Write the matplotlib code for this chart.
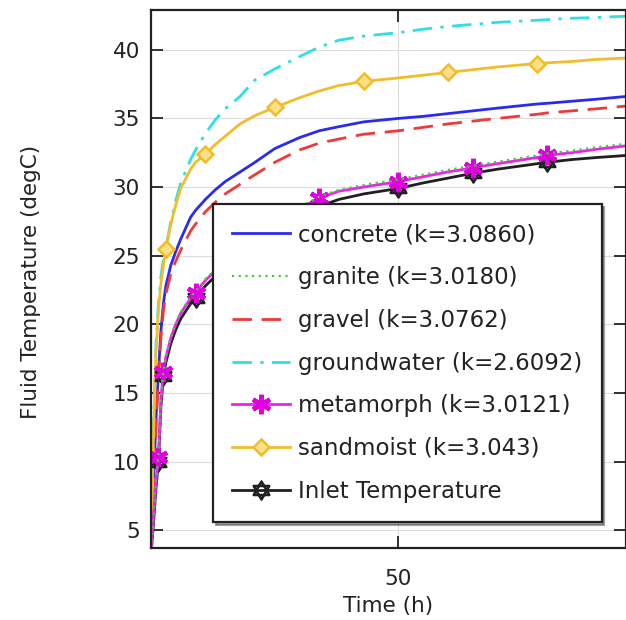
import numpy as np
import matplotlib
matplotlib.use("Agg")
import matplotlib.pyplot as plt
from matplotlib.lines import Line2D
from matplotlib.path import Path

# time axis (hours)
time_h = [0, 0.5, 1, 1.5, 2, 2.5, 3, 4, 5, 6, 8, 9, 11, 13, 15, 18,
          21, 25, 30, 34, 38, 43, 50, 55, 60, 65, 70, 78, 80, 85, 90, 96]

concrete = [3.2, 8.5, 13.0, 16.5, 19.5, 21.5, 22.8, 24.3, 25.3, 26.2, 27.8, 28.3,
            29.1, 29.8, 30.4, 31.1, 31.8, 32.8, 33.6, 34.1, 34.4, 34.75, 35.0, 35.15,
            35.35, 35.55, 35.75, 36.05, 36.1, 36.25, 36.4, 36.6]
granite = [3.2, 6.1, 8.6, 10.4, 14.6, 16.6, 17.7, 19.1, 20.1, 20.9, 22.0, 22.4,
           23.3, 24.0, 24.7, 25.6, 26.4, 27.4, 28.5, 29.3, 29.8, 30.15, 30.55, 30.9,
           31.25, 31.55, 31.85, 32.3, 32.45, 32.65, 32.9, 33.15]
gravel = [3.2, 8.0, 12.5, 16.0, 19.0, 21.0, 22.2, 23.7, 24.6, 25.4, 26.8, 27.3,
          28.2, 28.9, 29.5, 30.2, 30.9, 31.8, 32.7, 33.2, 33.5, 33.85, 34.1, 34.35,
          34.6, 34.8, 35.0, 35.3, 35.4, 35.55, 35.7, 35.9]
groundwater = [3.2, 12.5, 18.5, 21.5, 23.5, 24.7, 25.5, 27.5, 29.0, 30.3, 32.0, 32.7,
               33.9, 34.9, 35.7, 36.6, 37.8, 38.6, 39.5, 40.2, 40.7, 41.0, 41.25, 41.5,
               41.7, 41.85, 42.0, 42.15, 42.2, 42.3, 42.35, 42.45]
metamorph = [3.2, 6.0, 8.5, 10.3, 14.5, 16.5, 17.6, 19.0, 20.0, 20.8, 21.9, 22.3,
             23.2, 23.9, 24.6, 25.5, 26.3, 27.3, 28.4, 29.2, 29.7, 30.0, 30.4, 30.75,
             31.1, 31.4, 31.7, 32.15, 32.3, 32.5, 32.75, 33.0]
sandmoist = [3.2, 12.0, 18.0, 21.0, 23.0, 24.3, 25.5, 27.3, 28.7, 29.9, 31.3, 31.8,
             32.4, 33.1, 33.7, 34.6, 35.2, 35.8, 36.5, 37.0, 37.4, 37.7, 37.95, 38.15,
             38.35, 38.55, 38.75, 39.0, 39.05, 39.15, 39.3, 39.4]
inlet = [3.2, 5.5, 8.0, 10.0, 14.0, 16.2, 17.2, 18.6, 19.6, 20.4, 21.5, 21.9,
         22.8, 23.5, 24.1, 25.0, 25.8, 26.8, 27.9, 28.6, 29.1, 29.5, 29.9, 30.3,
         30.65, 31.0, 31.3, 31.7, 31.8, 32.0, 32.15, 32.3]

labels = ["concrete (k=3.0860)", "granite (k=3.0180)", "gravel (k=3.0762)",
          "groundwater (k=2.6092)", "metamorph (k=3.0121)", "sandmoist (k=3.043)",
          "Inlet Temperature"]

# marker positions (indices into time_h)
metamorph_marks = [3, 5, 11, 19, 22, 25, 28]
sandmoist_marks = [6, 12, 17, 21, 24, 27]

# six-pointed star outline made of two triangles
up = [(0, 1), (-0.866, -0.5), (0.866, -0.5), (0, 1)]
down = [(0, -1), (-0.866, 0.5), (0.866, 0.5), (0, -1)]
codes = [Path.MOVETO, Path.LINETO, Path.LINETO, Path.CLOSEPOLY]
hexagram = Path(up + down, codes + codes)

plt.rcParams["font.family"] = "DejaVu Sans"
fig = plt.figure(figsize=(6.26, 6.2), dpi=100)
ax = fig.add_axes([151 / 626, 1 - 548 / 620, 1 - 151 / 626, (548 - 10) / 620])

t = np.array(time_h)
lw = 2.0
ax.plot(t, concrete, color="#2b2bef", lw=lw)
ax.plot(t, gravel, color="#f03a3a", lw=lw, dashes=(7, 3.5))
ax.plot(t, groundwater, color="#2ee0e0", lw=lw, dashes=(7, 3, 1.2, 3))
ax.plot(t, sandmoist, color="#f2bd2a", lw=lw)
ax.plot(t, sandmoist, ls="none", marker="D", ms=8, mfc="#fbe08a", mec="#f2bd2a",
        mew=1.8, markevery=sandmoist_marks)
ax.plot(t, inlet, color="#202020", lw=lw)
ax.plot(t, inlet, ls="none", marker=hexagram, ms=13, mfc="none", mec="#202020",
        mew=1.8, markevery=metamorph_marks)
ax.plot(t, metamorph, color="#f020f0", lw=lw)
ax.plot(t, metamorph, ls="none", marker=(6, 2, 0), ms=14, mec="#e000e0",
        mew=3.2, markevery=metamorph_marks)
ax.plot(t, granite, color="#3ccf3c", lw=1.6, ls=(0, (1, 2)))

ax.set_xlim(0, 96)
ax.set_ylim(3.7, 42.9)
ax.set_xticks([50])
ax.set_yticks([5, 10, 15, 20, 25, 30, 35, 40])
ax.grid(True, color="#dddddd", lw=0.8)
ax.tick_params(direction="in", length=8.5, width=1.3, top=True, right=True,
               labelsize=15.5, colors="#222222")
ax.tick_params(axis="x", pad=15)
ax.tick_params(axis="y", pad=8)
for s in ax.spines.values():
    s.set_linewidth(1.6)
    s.set_color("#222222")

ax.set_xlabel("Time (h)", fontsize=15.5, color="#222222")
ax.set_ylabel("Fluid Temperature (degC)", fontsize=15.5, color="#222222")
ax.xaxis.set_label_coords(0.5, -0.09)
ax.yaxis.set_label_coords(-0.232, 0.494)

handles = [
    Line2D([], [], color="#2b2bef", lw=lw),
    Line2D([], [], color="#3ccf3c", lw=1.6, ls=(0, (1, 2))),
    Line2D([], [], color="#f03a3a", lw=lw, dashes=(7, 3.5)),
    Line2D([], [], color="#2ee0e0", lw=lw, dashes=(7, 3, 1.2, 3)),
    Line2D([], [], color="#f020f0", lw=lw, marker=(6, 2, 0), ms=14, mec="#e000e0", mew=3.2),
    Line2D([], [], color="#f2bd2a", lw=lw, marker="D", ms=8, mfc="#fbe08a",
           mec="#f2bd2a", mew=1.8),
    Line2D([], [], color="#202020", lw=lw, marker=hexagram, ms=13, mfc="none",
           mec="#202020", mew=1.8),
]
leg = ax.legend(handles, labels, loc="lower left", bbox_to_anchor=(0.1305, 0.048),
                borderaxespad=0, fontsize=16.5, handlelength=2.5, handletextpad=0.35,
                labelspacing=0.86, borderpad=0.85, fancybox=False, shadow=True,
                framealpha=1, edgecolor="#222222")
leg.get_frame().set_linewidth(1.6)
for txt in leg.get_texts():
    txt.set_color("#222222")

fig.savefig("out.png", dpi=100)
